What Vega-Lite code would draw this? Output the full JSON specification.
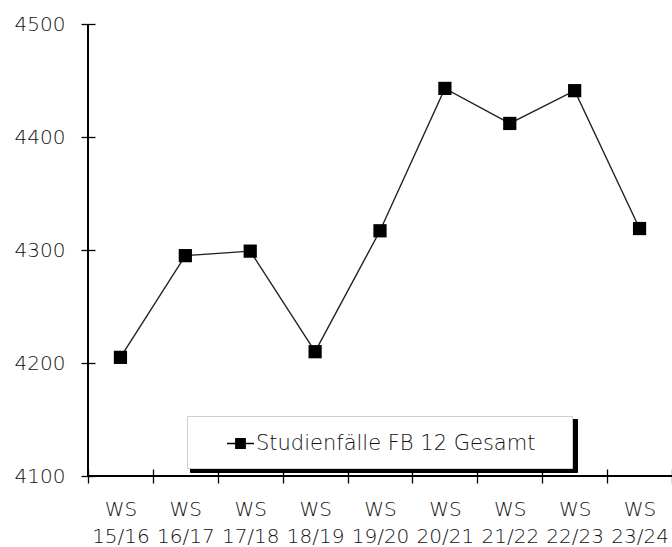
{
  "$schema": "https://vega.github.io/schema/vega-lite/v6.json",
  "width": 584,
  "height": 452,
  "autosize": {"type": "none"},
  "padding": {"left": 88, "top": 24, "right": 0, "bottom": 71},
  "background": "white",
  "config": {"view": {"stroke": null}, "font": "DejaVu Sans"},
  "data": {
    "values": [
      {"semester": "WS 15/16", "value": 4205},
      {"semester": "WS 16/17", "value": 4295},
      {"semester": "WS 17/18", "value": 4299},
      {"semester": "WS 18/19", "value": 4210},
      {"semester": "WS 19/20", "value": 4317},
      {"semester": "WS 20/21", "value": 4443},
      {"semester": "WS 21/22", "value": 4412},
      {"semester": "WS 22/23", "value": 4441},
      {"semester": "WS 23/24", "value": 4319}
    ]
  },
  "layer": [
    {
      "mark": {"type": "line", "strokeWidth": 1.4},
      "encoding": {
        "x": {
          "field": "semester", "type": "nominal", "sort": null,
          "scale": {"type": "band", "paddingInner": 0, "paddingOuter": 0},
          "axis": {
            "title": null, "labelAngle": 0, "labelAlign": "center", "bandPosition": 0.5,
            "tickBand": "extent", "offset": -7, "domain": false,
            "labelExpr": "split(datum.label, ' ')",
            "labelLineHeight": 27, "labelFontSize": 20, "labelFontWeight": 200, "labelColor": "#111",
            "labelPadding": 16, "tickSize": 14, "tickColor": "#000",
            "tickWidth": 1.3, "grid": false
          }
        },
        "y": {
          "field": "value", "type": "quantitative",
          "scale": {"domain": [4100, 4500], "nice": false, "zero": false},
          "axis": {
            "title": null, "values": [4100, 4200, 4300, 4400, 4500], "format": "d",
            "offset": -7, "domain": false,
            "labelFontSize": 20, "labelFontWeight": 200, "labelColor": "#111", "labelPadding": 16,
            "tickSize": 14, "tickColor": "#000",
            "tickWidth": 1.3, "grid": false
          }
        },
        "color": {
          "datum": "shadow",
          "scale": {"range": ["#222"]},
          "legend": {
            "orient": "none", "legendX": 102, "legendY": 395,
            "title": "\u00a0", "titleOrient": "left", "titleFontSize": 21, "titleFontWeight": 200, "titlePadding": 26,
            "padding": 14, "fillColor": "#000", "strokeColor": "#000",
            "labelExpr": "'Studienfälle FB 12 Gesamt\u00a0\u2800'",
            "labelFontSize": 21, "labelFontWeight": 200, "labelLimit": 500, "labelColor": "transparent", "labelOffset": 2,
            "symbolType": "M-1,-0.05H1V0.05H-1ZM-0.4,-0.4H0.4V0.4H-0.4Z", "symbolSize": 729,
            "symbolOpacity": 0
          }
        }
      }
    },
    {
      "mark": {"type": "point", "shape": "square", "filled": true, "size": 175, "color": "#000"},
      "encoding": {
        "x": {"field": "semester", "type": "nominal", "sort": null},
        "y": {"field": "value", "type": "quantitative"},
        "opacity": {
          "datum": "Studienfälle FB 12 Gesamt\u00a0\u2800",
          "type": "ordinal",
          "scale": {"range": [1, 1]},
          "legend": {
            "orient": "none", "legendX": 99, "legendY": 392,
            "title": "\u00a0", "titleOrient": "left", "titleFontSize": 21, "titleFontWeight": 200, "titlePadding": 26,
            "padding": 14, "fillColor": "white", "strokeColor": "#cfcfcf",
            "labelFontSize": 21, "labelFontWeight": 200, "labelLimit": 500, "labelColor": "#111", "labelOffset": 2,
            "symbolType": "M-1,-0.05H1V0.05H-1ZM-0.4,-0.4H0.4V0.4H-0.4Z", "symbolSize": 729,
            "symbolFillColor": "#000", "symbolStrokeColor": "#000", "symbolStrokeWidth": 0
          }
        }
      }
    },
    {
      "mark": {"type": "rule", "color": "#000", "strokeWidth": 1.3},
      "encoding": {"y": {"datum": 4100, "type": "quantitative"}}
    },
    {
      "mark": {"type": "rule", "color": "#000", "strokeWidth": 1.3},
      "encoding": {"x": {"datum": "WS 15/16", "type": "nominal", "bandPosition": 0}}
    }
  ]
}
